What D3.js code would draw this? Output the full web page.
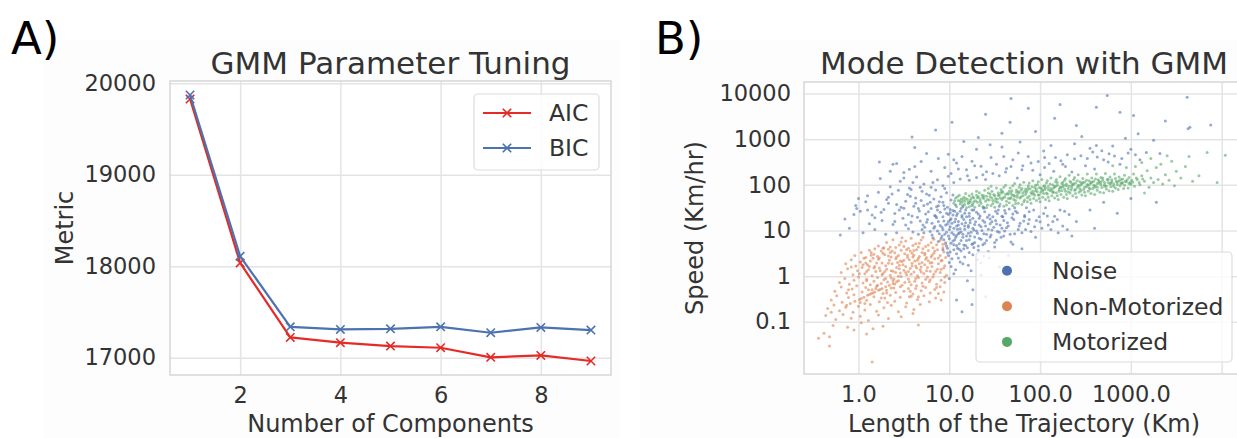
<!DOCTYPE html>
<html>
<head>
<meta charset="utf-8">
<script src="https://cdn.jsdelivr.net/npm/d3@7"></script>
<style>
  html, body { margin: 0; padding: 0; background: #fff; }
  svg { display: block; font-family: "DejaVu Sans", sans-serif; }
</style>
</head>
<body>
<svg id="fig" width="1237" height="438"></svg>
<script>
// ---------- data: panel A (information criteria vs. number of components) ----------
const components = [1, 2, 3, 4, 5, 6, 7, 8, 9];
const aic = [19828, 18036, 17222, 17164, 17127, 17109, 17004, 17025, 16964];
const bic = [19872, 18109, 17338, 17309, 17316, 17338, 17273, 17331, 17302];
const metricTicks = [17000, 18000, 19000, 20000];
const componentTicks = [2, 4, 6, 8];

// ---------- data: panel B (trajectories, [log10 length km, log10 speed km/h]) ----------
const lengthTicks = [1, 10, 100, 1000, 10000];
const lengthTickLabels = ["1.0", "10.0", "100.0", "1000.0", ""];
const speedTicks = [0.1, 1, 10, 100, 1000, 10000];
const speedTickLabels = ["0.1", "1", "10", "100", "1000", "10000"];
const modeNames = ["Noise", "Non-Motorized", "Motorized"];

const noise = [
[0.99,0.45],[1.03,0.38],[1.08,0.49],[1.12,0.31],[1.17,0.42],[1.21,0.24],[1.26,0.47],[1.31,0.36],[1.38,0.44],[1.02,0.21],[1.07,0.14],[1.15,0.27],[1.24,0.12],[1.35,0.29],[1.44,0.40],[1.00,0.30],[1.10,0.40],
[0.93,0.58],[0.97,0.66],[1.01,0.53],[1.05,0.69],[1.09,0.61],[1.13,0.55],[1.18,0.67],[1.22,0.52],[1.27,0.63],[1.32,0.57],[1.37,0.69],[1.43,0.54],[1.50,0.64],[0.98,0.51],[1.16,0.60],[1.25,0.70],
[0.82,0.84],[0.88,0.76],[0.92,0.88],[0.96,0.73],[1.00,0.82],[1.04,0.77],[1.08,0.89],[1.11,0.71],[1.15,0.85],[1.19,0.78],[1.23,0.88],[1.28,0.74],[1.33,0.83],[1.39,0.72],[1.45,0.86],[1.52,0.79],[1.60,0.88],[1.68,0.75],[1.06,0.80],[0.94,0.80],
[0.42,0.95],[0.55,1.04],[0.66,0.92],[0.73,1.07],[0.79,0.98],[0.84,1.09],[0.89,0.93],[0.93,1.02],[0.97,0.96],[1.01,1.08],[1.05,0.91],[1.09,1.03],[1.13,0.97],[1.17,1.10],[1.21,0.94],[1.26,1.05],[1.30,0.99],[1.35,1.08],[1.41,0.92],[1.47,1.01],[1.55,0.96],[1.63,1.06],[1.72,0.93],[1.84,1.02],[0.60,0.97],[1.11,0.95],
[0.12,1.15],[0.26,1.22],[0.38,1.13],[0.49,1.27],[0.58,1.18],[0.65,1.29],[0.71,1.12],[0.76,1.24],[0.81,1.16],[0.86,1.28],[0.90,1.11],[0.94,1.21],[0.98,1.14],[1.02,1.26],[1.06,1.19],[1.10,1.12],[1.14,1.29],[1.18,1.17],[1.23,1.23],[1.28,1.13],[1.33,1.27],[1.39,1.18],[1.45,1.25],[1.52,1.14],[1.60,1.22],[1.69,1.28],[1.78,1.16],[1.88,1.24],[2.00,1.19],[2.09,1.12],[0.99,1.20],[1.21,1.11],
[0.02,1.42],[0.15,1.34],[0.28,1.46],[0.40,1.37],[0.50,1.49],[0.59,1.32],[0.67,1.43],[0.74,1.36],[0.80,1.48],[0.85,1.31],[0.90,1.40],[0.95,1.47],[0.99,1.35],[1.04,1.44],[1.08,1.33],[1.13,1.48],[1.17,1.38],[1.22,1.31],[1.27,1.45],[1.32,1.36],[1.38,1.49],[1.44,1.34],[1.51,1.42],[1.58,1.31],[1.66,1.47],[1.75,1.39],[1.83,1.33],[1.93,1.45],[2.04,1.37],[2.16,1.31],[2.27,1.42],[0.87,1.45],[1.01,1.39],
[-0.03,1.55],[0.08,1.63],[0.19,1.52],[0.31,1.68],[0.42,1.57],[0.52,1.64],[0.61,1.53],[0.69,1.66],[0.76,1.58],[0.83,1.69],[0.88,1.54],[0.93,1.62],[0.98,1.51],[1.02,1.67],[1.07,1.56],[1.15,1.52],[1.25,1.55],[1.38,1.51],[1.55,1.53],[1.72,1.50],[0.72,1.55],[0.47,1.51],
[0.10,1.76],[0.22,1.84],[0.33,1.73],[0.44,1.88],[0.54,1.79],[0.63,1.71],[0.70,1.86],[0.78,1.77],[0.85,1.89],[0.91,1.74],[0.97,1.83],[1.04,1.78],[0.58,1.90],[0.37,1.80],
[0.24,2.14],[0.35,1.96],[0.46,2.08],[0.56,1.93],[0.64,2.17],[0.72,2.02],[0.80,1.95],[0.87,2.11],[0.93,1.98],[0.99,2.19],[1.05,2.05],[1.12,2.13],[1.20,2.20],[1.30,2.16],[0.60,2.05],[1.37,2.22],[1.48,2.25],[1.62,2.28],[1.80,2.33],[2.05,2.38],[2.28,2.40],
[0.23,2.50],[0.38,2.45],[0.42,2.47],[0.56,2.34],[0.69,2.51],[0.75,2.69],[0.99,2.67],[0.50,2.27],[0.62,2.40],[0.80,2.30],[0.88,2.58],[0.95,2.38],[1.02,2.25],[1.08,2.48],[1.14,2.62],[1.19,2.33],[1.25,2.52],[1.30,2.78],[1.35,2.41],[1.41,2.29],[1.46,2.60],[1.52,2.45],[1.58,2.83],[1.63,2.36],[1.70,2.55],[1.76,2.70],[1.81,2.42],[1.87,2.62],[1.92,2.32],[1.98,2.51],[2.04,2.74],[2.10,2.47],[2.17,2.60],[2.23,2.53],[2.30,2.66],[2.38,2.57],[2.45,2.64],[2.52,2.58],[2.58,2.72],[2.63,2.61],[2.70,2.55],[2.76,2.68],[2.82,2.63],[2.90,2.58],[2.97,2.70],[3.05,2.66],[1.16,2.95],[1.32,3.04],[1.78,2.94],[2.46,3.06],[2.94,3.02],[3.08,3.12],[3.25,2.98],[3.17,2.71],[3.32,2.69],[2.62,2.86],[2.38,2.90],[2.12,2.86],[1.45,2.88],[0.62,2.82],
[1.68,3.89],[1.87,3.68],[2.22,3.76],[1.03,3.37],[1.67,3.37],[2.16,3.46],[1.58,3.13],[1.95,3.17],[2.74,3.96],[3.62,3.92],[2.62,3.70],[2.88,3.59],[3.03,3.52],[3.65,3.26],[3.63,3.23],[1.40,3.55],[0.85,3.20],[2.40,3.30],[0.59,3.05],[3.38,3.40],[3.88,3.31],
[1.00,-0.05],[1.26,-0.30],[1.14,-0.78],[1.08,-0.52],[1.20,-0.10],[1.35,0.02],[1.05,0.05],[1.55,0.20],[1.40,-0.45],[1.65,0.45],[1.80,0.60],[1.25,-0.62],
[1.58,1.05],[1.64,1.17],[1.70,1.36],[1.76,1.02],[1.82,1.21],[1.88,1.41],[1.94,1.08],[1.99,1.30],[2.06,1.50],[2.12,1.02],[2.19,1.24],[2.25,1.10],[2.32,1.35],[1.47,1.19],[1.53,1.37],[1.61,1.44],[1.85,1.50],[2.40,1.20],[2.55,1.45],[2.70,1.62],[2.85,1.38],[3.00,1.70],[3.28,1.62],[2.20,0.95],[2.35,0.88],[2.60,1.05],[1.95,0.85],[1.70,0.70],
[-0.20,0.90],[-0.10,1.05],[-0.15,1.25],[0.05,0.95],[-0.05,1.35],[0.18,1.02],[0.30,0.92],[0.10,1.45],[0.00,1.70],[-0.02,1.48],
[0.72,0.95],[0.75,1.18],[0.77,1.41],[0.79,1.62],[0.81,0.90],[0.83,1.05],[0.84,1.33],[0.86,1.52],[0.87,0.99],[0.88,1.20],[0.89,1.63],[0.91,0.83],[0.92,1.07],[0.93,1.30],[0.94,1.55],[0.95,0.92],[0.96,1.12],[0.97,1.38],[0.98,0.61],[0.99,0.88],[1.00,1.02],[1.01,1.23],[1.01,1.46],[1.02,0.72],[1.03,0.95],[1.03,1.16],[1.04,1.34],[1.05,0.58],[1.05,1.05],[1.06,1.42],[1.07,0.85],[1.07,1.25],[1.08,0.67],[1.08,1.10],[1.09,1.37],[1.10,0.93],[1.10,1.20],[1.11,0.59],[1.12,1.04],[1.12,1.42],[1.13,0.78],[1.14,1.15],[1.14,1.33],[1.15,0.92],[1.16,0.68],[1.16,1.24],[1.17,1.03],[1.18,1.45],[1.19,0.88],[1.19,1.30],[1.20,0.62],[1.21,1.07],[1.22,1.38],[1.22,0.80],[1.23,1.17],[1.24,0.96],[1.25,1.45],[1.26,0.71],[1.26,1.27],[1.27,1.01],[1.28,0.86],[1.29,1.19],[1.30,1.40],[1.31,0.94],[1.32,0.66],[1.33,1.12],[1.34,1.32],[1.35,0.81],[1.36,1.00],[1.37,1.22],[1.38,0.93],[1.39,1.41],[1.40,1.10],[1.41,0.78],[1.42,1.29],[1.43,1.03],[1.45,1.15],[1.46,0.90],[1.48,1.30],[1.49,1.07],[1.50,0.74],[1.51,1.22],[1.53,0.98],[1.54,1.45],[1.56,1.12],[1.57,0.85],[1.59,1.30],[1.61,0.99],[1.62,1.38],[1.65,1.10],[1.67,0.92],[1.71,1.24],[1.73,1.42],[1.77,1.10],[1.80,0.95],[1.83,1.30],[1.87,1.15],[1.90,0.98],[1.96,1.22],[2.02,1.05],[2.08,1.32],[2.14,1.20],[2.22,1.45],[2.30,1.02],[0.66,1.48],[0.68,1.21],[0.70,1.02],[0.63,1.60],[0.55,1.35],[0.52,1.12],[0.45,1.45],[0.40,1.20],[0.33,1.60],[0.25,1.40],[0.18,1.28],[0.57,1.75],[0.75,1.80],[0.68,1.95],[0.82,2.05],[0.95,1.92],[0.50,2.15],[0.35,2.30],
[1.10,2.35],[1.22,2.10],[1.28,2.42],[1.40,2.12],[1.55,2.20],[1.68,2.40],[1.75,2.15],[1.90,2.48],[2.00,2.22],[2.15,2.30],[2.25,2.45],[2.35,2.28],[2.50,2.42],[2.60,2.35],[2.75,2.50],[2.88,2.45],[1.05,2.55],[1.60,2.62],[2.05,2.60],[2.55,2.80],[2.80,2.85],[3.00,2.78],[3.10,2.55],[2.68,2.75]
];

const nonMotorized = [
[0.22,0.66],[0.31,0.74],[0.38,0.80],[0.45,0.68],[0.52,0.77],[0.58,0.83],[0.63,0.71],[0.69,0.79],[0.74,0.65],[0.80,0.74],[0.86,0.69],[0.90,0.78],[0.93,0.62],[0.41,0.63],[0.55,0.61],[0.66,0.64],[0.27,0.61],[0.83,0.81],[0.96,0.70],[0.48,0.84],[0.71,0.85],[0.60,0.67],
[-0.04,0.45],[0.03,0.52],[0.08,0.41],[0.12,0.57],[0.17,0.48],[0.21,0.43],[0.25,0.55],[0.29,0.47],[0.33,0.59],[0.36,0.42],[0.40,0.51],[0.44,0.45],[0.47,0.57],[0.51,0.49],[0.54,0.41],[0.57,0.55],[0.61,0.46],[0.64,0.58],[0.67,0.43],[0.70,0.52],[0.73,0.47],[0.77,0.56],[0.80,0.42],[0.83,0.50],[0.87,0.58],[0.90,0.45],[0.94,0.53],[0.96,0.41],[0.35,0.52],[0.59,0.50],[0.14,0.46],[0.75,0.41],
[-0.14,0.27],[-0.08,0.36],[-0.03,0.22],[0.02,0.31],[0.06,0.39],[0.10,0.25],[0.13,0.33],[0.18,0.21],[0.22,0.37],[0.26,0.29],[0.30,0.23],[0.34,0.35],[0.37,0.27],[0.41,0.38],[0.45,0.24],[0.48,0.32],[0.52,0.21],[0.56,0.36],[0.59,0.28],[0.63,0.22],[0.66,0.39],[0.70,0.30],[0.73,0.25],[0.77,0.34],[0.81,0.21],[0.84,0.38],[0.88,0.27],[0.91,0.33],[0.95,0.23],[0.43,0.30],[0.20,0.29],[0.62,0.33],[0.79,0.29],
[-0.19,0.08],[-0.12,0.16],[-0.06,0.03],[-0.01,0.12],[0.04,0.19],[0.07,0.05],[0.11,0.14],[0.15,0.01],[0.19,0.10],[0.23,0.18],[0.27,0.06],[0.31,0.15],[0.35,0.02],[0.38,0.11],[0.42,0.19],[0.46,0.07],[0.50,0.13],[0.53,0.03],[0.57,0.17],[0.61,0.09],[0.65,0.01],[0.68,0.14],[0.72,0.06],[0.76,0.19],[0.79,0.11],[0.83,0.04],[0.87,0.15],[0.90,0.08],[0.94,0.18],[0.97,0.02],[0.29,0.10],[0.55,0.10],[0.09,0.10],
[-0.21,-0.14],[-0.15,-0.05],[-0.10,-0.18],[-0.05,-0.09],[0.00,-0.02],[0.05,-0.15],[0.09,-0.07],[0.13,-0.19],[0.17,-0.11],[0.21,-0.03],[0.25,-0.16],[0.28,-0.08],[0.32,-0.13],[0.36,-0.04],[0.40,-0.17],[0.44,-0.10],[0.47,-0.01],[0.51,-0.14],[0.55,-0.06],[0.58,-0.19],[0.62,-0.11],[0.66,-0.03],[0.70,-0.15],[0.74,-0.07],[0.78,-0.12],[0.82,-0.02],[0.86,-0.18],[0.91,-0.09],[0.95,-0.14],[0.38,-0.10],
[-0.09,-0.60],[-0.04,-0.55],[0.01,-0.51],[0.06,-0.46],[0.10,-0.42],[0.14,-0.38],[0.18,-0.35],[0.22,-0.31],[0.26,-0.27],[0.30,-0.23],[0.34,-0.20],[0.38,-0.16],[0.42,-0.12],[-0.13,-0.64],[0.03,-0.49],[0.16,-0.37],[0.24,-0.29],[0.12,-0.40],
[-0.26,-0.33],[-0.19,-0.24],[-0.13,-0.37],[-0.07,-0.28],[-0.02,-0.21],[0.04,-0.35],[0.08,-0.25],[0.15,-0.30],[0.20,-0.22],[0.27,-0.38],[0.31,-0.31],[0.36,-0.26],[0.41,-0.36],[0.46,-0.23],[0.50,-0.33],[0.55,-0.27],[0.60,-0.39],[0.64,-0.21],[0.69,-0.32],[0.74,-0.25],[0.79,-0.37],[0.84,-0.29],[0.90,-0.23],[0.94,-0.35],
[-0.30,-0.52],[-0.24,-0.43],[-0.18,-0.57],[-0.11,-0.47],[-0.05,-0.41],[0.02,-0.58],[0.09,-0.53],[0.17,-0.45],[0.23,-0.56],[0.29,-0.48],[0.35,-0.42],[0.40,-0.55],[0.46,-0.46],[0.53,-0.59],[0.58,-0.44],[0.65,-0.51],[0.72,-0.43],[0.78,-0.56],[0.85,-0.48],[0.91,-0.52],
[-0.34,-0.71],[-0.27,-0.63],[-0.21,-0.76],[-0.14,-0.68],[-0.06,-0.79],[0.00,-0.66],[0.07,-0.74],[0.13,-0.62],[0.20,-0.77],[0.28,-0.69],[0.36,-0.64],[0.44,-0.78],[0.52,-0.67],[0.61,-0.73],[0.68,-0.62],[-0.30,-0.79],
[-0.36,-0.86],[-0.25,-0.95],[-0.17,-0.84],[-0.08,-0.92],[0.02,-0.88],[0.11,-0.97],[0.22,-0.85],[0.33,-0.93],[0.47,-0.89],[0.60,-0.82],
[-0.28,-1.08],[-0.12,-1.12],[0.03,-1.02],[0.16,-1.15],[0.27,-1.10],[0.66,-1.07],[-0.05,-1.18],
[-0.38,-1.25],[-0.32,-1.33],[-0.32,-1.53],[0.15,-1.88],[-0.44,-1.36],[0.09,-1.27],
[0.16,0.39],[0.24,0.12],[0.33,0.44],[0.39,-0.06],[0.49,0.25],[0.53,0.58],[0.58,0.04],[0.63,-0.27],[0.67,0.27],[0.71,0.60],[0.76,-0.02],[0.81,0.46],[0.85,0.10],[0.88,-0.38],[0.92,0.35],[0.45,0.16],[0.27,0.50],[0.19,-0.27],[0.12,0.21],[0.35,0.64],[0.56,-0.45],[0.69,0.09],[0.74,0.37],[0.50,0.35],[0.41,0.08],[0.31,-0.37],[0.08,0.29],[0.60,0.42],[0.82,0.62],[0.64,0.18],
[0.05,0.25],[0.09,-0.10],[0.14,0.52],[0.17,0.18],[0.21,-0.20],[0.23,0.40],[0.26,0.03],[0.28,0.62],[0.30,-0.05],[0.33,0.28],[0.36,0.12],[0.37,0.55],[0.39,-0.26],[0.42,0.42],[0.44,0.00],[0.46,0.33],[0.48,-0.20],[0.50,0.65],[0.52,0.08],[0.54,0.46],[0.56,-0.12],[0.59,0.22],[0.61,0.56],[0.63,-0.05],[0.65,0.35],[0.67,0.72],[0.69,0.20],[0.71,-0.22],[0.73,0.50],[0.75,0.12],[0.77,0.68],[0.79,-0.08],[0.81,0.30],[0.84,0.55],[0.86,-0.25],[0.88,0.40],[0.91,0.15],[0.93,0.70],[0.95,-0.02],[0.18,0.60],[0.11,-0.30],[0.01,0.05],[-0.08,0.20],[-0.11,-0.30],[0.07,-0.60],[0.32,-0.58],[0.57,-0.33],[0.66,-0.45],[0.25,-0.48],[0.47,0.75]
];

const motorized = [
[1.05,1.60],[1.07,1.71],[1.08,1.52],[1.10,1.66],[1.11,1.77],[1.12,1.58],[1.13,1.69],[1.14,1.62],[1.09,1.74],[1.06,1.65],
[1.15,1.55],[1.16,1.73],[1.17,1.64],[1.18,1.81],[1.19,1.50],[1.20,1.68],[1.21,1.59],[1.22,1.76],[1.23,1.62],[1.24,1.70],[1.17,1.57],[1.22,1.52],
[1.25,1.80],[1.26,1.58],[1.27,1.71],[1.28,1.51],[1.29,1.65],[1.30,1.86],[1.31,1.62],[1.32,1.74],[1.33,1.55],[1.34,1.69],[1.27,1.63],[1.30,1.77],[1.33,1.83],
[1.35,1.60],[1.36,1.78],[1.37,1.52],[1.38,1.70],[1.39,1.88],[1.40,1.64],[1.41,1.75],[1.42,1.56],[1.43,1.82],[1.44,1.67],[1.37,1.73],[1.41,1.50],[1.43,1.92],
[1.45,1.74],[1.46,1.55],[1.47,1.86],[1.48,1.66],[1.49,1.79],[1.50,1.51],[1.51,1.70],[1.52,1.93],[1.53,1.62],[1.54,1.83],[1.46,1.97],[1.50,1.76],[1.53,1.69],[1.48,1.59],
[1.55,1.77],[1.56,1.58],[1.57,1.90],[1.58,1.68],[1.59,1.84],[1.60,1.53],[1.61,1.73],[1.62,1.99],[1.63,1.64],[1.64,1.81],[1.56,1.71],[1.60,1.95],[1.63,1.56],[1.58,1.86],
[1.65,1.80],[1.66,1.61],[1.67,1.93],[1.68,1.72],[1.69,1.87],[1.70,1.55],[1.71,1.77],[1.72,2.03],[1.73,1.66],[1.74,1.84],[1.67,1.70],[1.70,1.98],[1.73,1.59],[1.68,1.82],[1.72,1.75],
[1.75,1.78],[1.76,1.60],[1.77,1.95],[1.78,1.71],[1.79,1.88],[1.80,1.57],[1.81,1.82],[1.82,2.06],[1.83,1.67],[1.84,1.91],[1.76,1.85],[1.79,1.74],[1.82,1.63],[1.84,1.79],[1.78,2.00],
[1.85,1.84],[1.86,1.63],[1.87,1.98],[1.88,1.75],[1.89,1.91],[1.90,1.60],[1.91,1.80],[1.92,2.09],[1.93,1.70],[1.94,1.94],[1.86,1.88],[1.89,1.68],[1.92,1.86],[1.94,1.77],[1.88,2.04],
[1.95,1.87],[1.96,1.66],[1.97,2.01],[1.98,1.78],[1.99,1.94],[2.00,1.63],[2.01,1.84],[2.02,2.12],[2.03,1.73],[2.04,1.97],[1.96,1.91],[1.99,1.70],[2.02,1.90],[2.04,1.81],[1.98,2.07],
[2.05,1.90],[2.06,1.68],[2.07,2.04],[2.08,1.80],[2.09,1.96],[2.10,1.65],[2.11,1.87],[2.12,2.15],[2.13,1.76],[2.14,2.00],[2.06,1.93],[2.09,1.73],[2.12,1.92],[2.14,1.84],[2.08,2.09],
[2.15,1.93],[2.16,1.71],[2.17,2.07],[2.18,1.83],[2.19,1.99],[2.20,1.68],[2.21,1.90],[2.22,2.18],[2.23,1.79],[2.24,2.03],[2.16,1.96],[2.19,1.76],[2.22,1.95],[2.24,1.87],[2.18,2.12],
[2.25,1.96],[2.26,1.73],[2.27,2.10],[2.28,1.86],[2.29,2.02],[2.30,1.70],[2.31,1.92],[2.32,2.21],[2.33,1.82],[2.34,2.05],[2.26,1.99],[2.29,1.79],[2.32,1.97],[2.34,1.89],[2.28,2.14],
[2.35,1.98],[2.36,1.76],[2.37,2.12],[2.38,1.88],[2.39,2.04],[2.40,1.73],[2.41,1.94],[2.42,2.22],[2.43,1.84],[2.44,2.07],[2.36,2.01],[2.39,1.81],[2.42,1.99],[2.44,1.91],[2.38,2.16],
[2.45,2.00],[2.46,1.78],[2.47,2.14],[2.48,1.90],[2.49,2.06],[2.50,1.76],[2.51,1.96],[2.52,2.24],[2.53,1.86],[2.54,2.09],[2.46,2.03],[2.49,1.84],[2.52,2.01],[2.54,1.93],
[2.55,2.02],[2.56,1.81],[2.57,2.15],[2.58,1.92],[2.59,2.08],[2.60,1.79],[2.61,1.98],[2.62,2.24],[2.63,1.88],[2.64,2.11],[2.56,2.05],[2.60,1.95],[2.63,2.03],
[2.65,2.04],[2.66,1.84],[2.67,2.16],[2.68,1.94],[2.69,2.10],[2.70,1.83],[2.71,2.00],[2.72,2.25],[2.73,1.91],[2.74,2.12],[2.67,2.06],[2.71,1.97],
[2.75,2.05],[2.76,1.87],[2.77,2.17],[2.78,1.96],[2.79,2.11],[2.80,1.86],[2.81,2.02],[2.82,2.24],[2.83,1.93],[2.84,2.08],[2.78,2.04],
[2.85,2.06],[2.86,1.90],[2.87,2.17],[2.88,1.98],[2.89,2.12],[2.90,2.03],[2.92,1.92],[2.93,2.21],[2.94,2.08],[2.91,2.05],
[2.95,2.07],[2.97,1.93],[2.98,2.16],[3.00,2.01],[3.01,2.10],[3.03,2.24],[3.04,1.97],[2.99,2.05],
[3.07,2.12],[3.10,2.00],[3.12,2.20],[3.15,2.08],[3.18,2.31],[3.20,1.95],[3.22,2.15],[3.25,2.05],[3.28,2.38],[3.30,2.12],[3.33,2.45],[3.35,2.02],[3.38,2.22],[3.42,2.10],[3.45,2.52],[3.48,1.98],[3.50,2.30],[3.55,2.15],[3.60,2.40],[3.64,2.62],[3.68,2.08],[3.75,2.20],[3.84,2.71],[4.04,2.65],[3.95,2.05],[3.12,2.49],[3.22,2.58],[3.05,2.40],[2.95,2.38],[3.40,2.64],[2.80,2.42],[3.15,1.82],
[1.31,1.72],[1.34,1.64],[1.38,1.76],[1.42,1.68],[1.45,1.80],[1.47,1.71],[1.51,1.64],[1.54,1.77],[1.57,1.82],[1.59,1.72],[1.62,1.79],[1.65,1.70],[1.66,1.86],[1.69,1.78],[1.71,1.68],[1.74,1.89],[1.75,1.73],[1.77,1.83],[1.80,1.92],[1.81,1.76],[1.83,1.86],[1.86,1.72],[1.87,1.93],[1.90,1.83],[1.91,1.96],[1.93,1.81],[1.95,1.99],[1.97,1.85],[1.99,1.78],[2.01,1.93],[2.03,1.87],[2.05,1.98],[2.07,1.82],[2.09,1.90],[2.11,2.02],[2.13,1.88],[2.15,1.84],[2.17,1.97],[2.19,2.05],[2.21,1.86],[2.23,1.94],[2.25,2.06],[2.27,1.91],[2.29,1.98],[2.31,1.85],[2.33,2.08],[2.35,1.93],[2.37,2.02],[2.39,1.90],[2.41,2.09],[2.43,1.97],[2.45,1.87],[2.47,2.05],[2.49,1.95],[2.51,2.10],[2.53,1.99],[2.55,1.91],[2.57,2.06],[2.59,1.99],[2.61,2.13],[2.63,1.95],[2.65,2.08],[2.67,2.00],[2.69,2.15],[2.71,2.05],[2.73,1.97],[2.75,2.12],[2.77,2.02],[2.79,2.07],[2.81,1.97],[2.83,2.14],[2.85,2.01],[2.87,2.09],[2.89,2.04],[2.91,2.13],[2.93,1.99],[2.96,2.11],[2.98,2.03],[3.02,2.06],[3.06,2.15],[3.09,2.05],[3.13,2.13],[1.12,1.64],[1.18,1.70],[1.23,1.66],[1.26,1.74],[1.21,1.62],[1.15,1.68]
];

// ---------- styles ----------
const ink = "#333333";
const gridColor = "#e4e4e4";
const spineColor = "#d6d6d6";
const aicColor = "#e52b26";
const bicColor = "#4c72b0";
const modeColors = ["#4c72b0", "#dd8452", "#55a868"];
const tickFont = 22.5, labelFont = 24, titleFont = 31, legendFont = 23.5;

const svg = d3.select("#fig");

// very faint panel backgrounds
svg.append("rect").attr("x", 43).attr("y", 40).attr("width", 577).attr("height", 398).attr("fill", "#fdfdfd");
svg.append("rect").attr("x", 640).attr("y", 40).attr("width", 597).attr("height", 398).attr("fill", "#fdfdfd");

// panel letters
svg.append("text").attr("x", 11).attr("y", 54).attr("font-size", 45).attr("fill", "#000").text("A)");
svg.append("text").attr("x", 655).attr("y", 54).attr("font-size", 45).attr("fill", "#000").text("B)");

function styleAxis(g) {
  g.select(".domain").remove();
  g.selectAll(".tick line").attr("stroke", gridColor).attr("stroke-width", 1.5);
  g.selectAll(".tick text").attr("fill", ink).attr("font-size", tickFont).attr("font-family", "DejaVu Sans");
}

// ================= Panel A =================
const A = { left: 170, right: 611, top: 81, bottom: 375 };
const xA = d3.scaleLinear().domain([0.6, 9.4]).range([A.left, A.right]);
const yA = d3.scaleLinear().domain([16811, 20025]).range([A.bottom, A.top]);
const gA = svg.append("g");
gA.append("rect").attr("x", A.left).attr("y", A.top).attr("width", A.right - A.left).attr("height", A.bottom - A.top).attr("fill", "#fff");

gA.append("g").attr("transform", `translate(0,${A.bottom})`)
  .call(d3.axisBottom(xA).tickValues(componentTicks).tickFormat(d3.format("d"))
    .tickSize(-(A.bottom - A.top)).tickPadding(12))
  .call(styleAxis);
gA.append("g").attr("transform", `translate(${A.left},0)`)
  .call(d3.axisLeft(yA).tickValues(metricTicks).tickFormat(d3.format("d"))
    .tickSize(-(A.right - A.left)).tickPadding(14))
  .call(styleAxis);
gA.append("rect").attr("x", A.left).attr("y", A.top).attr("width", A.right - A.left).attr("height", A.bottom - A.top)
  .attr("fill", "none").attr("stroke", spineColor).attr("stroke-width", 1.5);

const lineA = (vals) => d3.line().x((d, i) => xA(components[i])).y(d => yA(d))(vals);
const xMark = (s) => `M${-s},${-s}L${s},${s}M${-s},${s}L${s},${-s}`;
[[aic, aicColor], [bic, bicColor]].forEach(([vals, col]) => {
  gA.append("path").attr("d", lineA(vals)).attr("fill", "none").attr("stroke", col).attr("stroke-width", 2.2).attr("stroke-linejoin", "round");
  gA.selectAll(null).data(vals).join("path")
    .attr("transform", (d, i) => `translate(${xA(components[i])},${yA(d)})`)
    .attr("d", xMark(4.2)).attr("stroke", col).attr("stroke-width", 1.6).attr("fill", "none");
});

gA.append("text").attr("x", (A.left + A.right) / 2).attr("y", 74).attr("text-anchor", "middle")
  .attr("font-size", titleFont).attr("fill", ink).text("GMM Parameter Tuning");
gA.append("text").attr("x", (A.left + A.right) / 2).attr("y", 432).attr("text-anchor", "middle")
  .attr("font-size", labelFont).attr("fill", ink).text("Number of Components");
gA.append("text").attr("transform", `translate(73,${(A.top + A.bottom) / 2}) rotate(-90)`).attr("text-anchor", "middle")
  .attr("font-size", labelFont).attr("fill", ink).text("Metric");

// legend A
const legA = gA.append("g");
legA.append("rect").attr("x", 474).attr("y", 94).attr("width", 125).attr("height", 76).attr("rx", 4)
  .attr("fill", "#fff").attr("fill-opacity", 0.8).attr("stroke", "#dcdcdc").attr("stroke-width", 1.2);
[["AIC", aicColor, 113], ["BIC", bicColor, 148]].forEach(([name, col, y]) => {
  legA.append("line").attr("x1", 483).attr("x2", 531).attr("y1", y).attr("y2", y).attr("stroke", col).attr("stroke-width", 2.2);
  legA.append("path").attr("transform", `translate(507,${y})`).attr("d", xMark(4.2)).attr("stroke", col).attr("stroke-width", 1.6);
  legA.append("text").attr("x", 549).attr("y", y).attr("dy", "0.36em").attr("font-size", legendFont).attr("fill", ink).text(name);
});

// ================= Panel B =================
const B = { left: 804, right: 1244, top: 82, bottom: 374 };
const xB = d3.scaleLog().domain([Math.pow(10, -0.6), Math.pow(10, 4.246)]).range([B.left, B.right]);
const yB = d3.scaleLog().domain([Math.pow(10, -2.144), Math.pow(10, 4.254)]).range([B.bottom, B.top]);
const gB = svg.append("g");
gB.append("rect").attr("x", B.left).attr("y", B.top).attr("width", B.right - B.left).attr("height", B.bottom - B.top).attr("fill", "#fff");

gB.append("g").attr("transform", `translate(0,${B.bottom})`)
  .call(d3.axisBottom(xB).tickValues(lengthTicks).tickFormat((d, i) => lengthTickLabels[i])
    .tickSize(-(B.bottom - B.top)).tickPadding(12))
  .call(styleAxis);
gB.append("g").attr("transform", `translate(${B.left},0)`)
  .call(d3.axisLeft(yB).tickValues(speedTicks).tickFormat((d, i) => speedTickLabels[i])
    .tickSize(-(B.right - B.left)).tickPadding(13))
  .call(styleAxis);

svg.append("clipPath").attr("id", "clipB").append("rect")
  .attr("x", B.left).attr("y", B.top).attr("width", B.right - B.left).attr("height", B.bottom - B.top);
const pts = gB.append("g").attr("clip-path", "url(#clipB)");
[[noise, 0], [nonMotorized, 1], [motorized, 2]].forEach(([set, k]) => {
  pts.append("g").selectAll("circle").data(set).join("circle")
    .attr("cx", d => xB(Math.pow(10, d[0])))
    .attr("cy", d => yB(Math.pow(10, d[1])))
    .attr("r", 1.5)
    .attr("fill", modeColors[k]).attr("fill-opacity", 0.6);
});

gB.append("rect").attr("x", B.left).attr("y", B.top).attr("width", B.right - B.left).attr("height", B.bottom - B.top)
  .attr("fill", "none").attr("stroke", spineColor).attr("stroke-width", 1.5);

gB.append("text").attr("x", (B.left + B.right) / 2).attr("y", 74).attr("text-anchor", "middle")
  .attr("font-size", titleFont).attr("fill", ink).text("Mode Detection with GMM");
gB.append("text").attr("x", (B.left + B.right) / 2).attr("y", 432).attr("text-anchor", "middle")
  .attr("font-size", labelFont).attr("fill", ink).text("Length of the Trajectory (Km)");
gB.append("text").attr("transform", `translate(703,228) rotate(-90)`).attr("text-anchor", "middle")
  .attr("font-size", labelFont).attr("fill", ink).text("Speed (Km/hr)");

// legend B
const legB = gB.append("g");
legB.append("rect").attr("x", 976).attr("y", 252).attr("width", 256).attr("height", 110).attr("rx", 4)
  .attr("fill", "#fff").attr("fill-opacity", 0.8).attr("stroke", "#dcdcdc").attr("stroke-width", 1.2);
modeNames.forEach((name, i) => {
  const y = 270.7 + i * 35.6;
  legB.append("circle").attr("cx", 1007).attr("cy", y).attr("r", 5).attr("fill", modeColors[i]);
  legB.append("text").attr("x", 1052).attr("y", y).attr("dy", "0.36em").attr("font-size", legendFont).attr("fill", ink).text(name);
});
</script>
</body>
</html>
